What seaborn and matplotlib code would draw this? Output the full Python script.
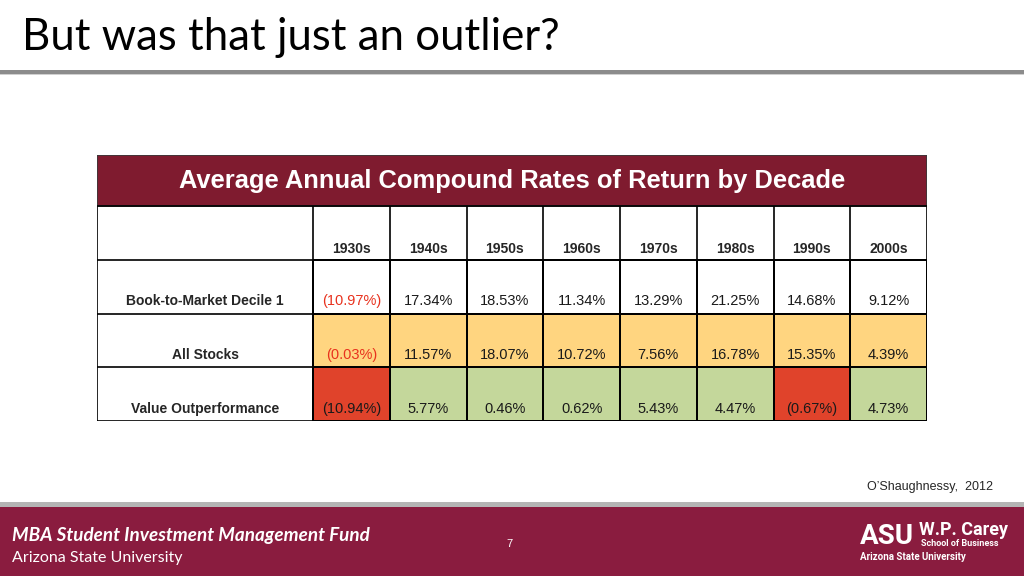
import matplotlib
matplotlib.use("Agg")
import matplotlib.pyplot as plt
from matplotlib.colors import ListedColormap
from matplotlib.patches import Rectangle
import numpy as np
import pandas as pd
import seaborn as sns

decades = ["1930s", "1940s", "1950s", "1960s", "1970s", "1980s", "1990s", "2000s"]
row_labels = ["Book-to-Market Decile 1", "All Stocks", "Value Outperformance"]
btm_decile1 = [-10.97, 17.34, 18.53, 11.34, 13.29, 21.25, 14.68, 9.12]
all_stocks = [-0.03, 11.57, 18.07, 10.72, 7.56, 16.78, 15.35, 4.39]
value_outperf = [-10.94, 5.77, 0.46, 0.62, 5.43, 4.47, -0.67, 4.73]

MAROON = "#8a1c3f"
BAND = "#7f1b2f"
YELLOW = "#ffd580"
GREEN = "#c4d79b"
RED = "#e0432b"

df = pd.DataFrame([btm_decile1, all_stocks, value_outperf], index=row_labels, columns=decades)

# colour code per cell: 0 white, 1 yellow, 2 green, 3 red
codes = np.zeros(df.shape)
codes[1, :] = 1
codes[2, :] = np.where(df.iloc[2] >= 0, 2, 3)
codes = pd.DataFrame(codes, index=row_labels, columns=decades)


def fmt(v):
    return f"({abs(v):.2f}%)" if v < 0 else f"{v:.2f}%"


sns.set_style("white")
plt.rcParams["font.family"] = ["Liberation Sans", "DejaVu Sans"]

fig = plt.figure(figsize=(10.24, 5.76), dpi=100)

# slide decoration in pixel coordinates
bg = fig.add_axes([0, 0, 1, 1])
bg.set_xlim(0, 1024)
bg.set_ylim(576, 0)
bg.set_axis_off()
bg.add_patch(Rectangle((0, 71), 1024, 4, color="#d0d0d0", lw=0))
bg.add_patch(Rectangle((0, 70), 1024, 4, color="#8c8c8c", lw=0))
bg.text(22, 38, "But was that just an outlier?", fontsize=31.5, family=["Lato", "DejaVu Sans"],
        va="center", ha="left", color="black")
bg.add_patch(Rectangle((0, 502), 1024, 6, color="#b4b4b4", lw=0))
bg.add_patch(Rectangle((0, 507), 1024, 69, color=MAROON, lw=0))
bg.text(12, 535, "MBA Student Investment Management Fund", fontsize=13.6, fontweight="bold",
        fontstyle="italic", family=["Lato", "DejaVu Sans"], color="white", va="center")
bg.text(12, 558, "Arizona State University", fontsize=11.5, family=["Lato", "DejaVu Sans"],
        color="white", va="center")
bg.text(509, 544, "7", fontsize=8, color="white", ha="center", va="center")
bg.text(993, 487, "O\u2019Shaughnessy,  2012", fontsize=9, ha="right", va="center")
bg.text(860, 536, "ASU", fontsize=20, fontweight="bold", color="white", va="center",
        family=["Roboto", "DejaVu Sans"])
bg.text(919, 530, "W.P. Carey", fontsize=13, fontweight="bold", color="white", va="center",
        family=["Roboto", "DejaVu Sans"])
bg.text(921, 544, "School of Business", fontsize=6.5, fontweight="bold", color="white",
        va="center", family=["Roboto", "DejaVu Sans"])
bg.text(860, 557, "Arizona State University", fontsize=7, fontweight="bold", color="white",
        va="center", family=["Roboto", "DejaVu Sans"])

# table
ax = fig.add_axes([97 / 1024, (576 - 421) / 576, 830 / 1024, 266 / 576])
cmap = ListedColormap(["white", YELLOW, GREEN, RED])
sns.heatmap(codes, cmap=cmap, vmin=-0.5, vmax=3.5, cbar=False, linewidths=1.2,
            linecolor="black", ax=ax)

n_cols = len(decades)
n_rows = len(row_labels)
lab_w = 216 / 76.75
title_h = 0.95
ax.set_xlim(-lab_w, n_cols)
ax.set_ylim(n_rows, -1 - title_h)
ax.set_axis_off()

ax.add_patch(Rectangle((-lab_w, -1 - title_h), n_cols + lab_w, title_h, facecolor=BAND,
                       edgecolor="#3a3a3a", lw=1.2))
ax.text((n_cols - lab_w) / 2, -1 - title_h / 2, "Average Annual Compound Rates of Return by Decade",
        color="white", fontsize=18.4, fontweight="bold", ha="center", va="center")

ax.hlines(np.arange(-1, n_rows + 1), -lab_w, n_cols, color="black", lw=1.2)
ax.vlines(np.arange(n_cols + 1), -1, n_rows, color="black", lw=1.2)
ax.vlines([-lab_w], -1, n_rows, color="black", lw=1.2)

for j, d in enumerate(decades):
    ax.text(j + 0.5, -0.2, d, ha="center", va="center", fontsize=10, fontweight="bold")

for i, lab in enumerate(row_labels):
    ax.text(-lab_w / 2, i + 0.77, lab, ha="center", va="center", fontsize=10, fontweight="bold")
    for j, v in enumerate(df.iloc[i]):
        red_txt = v < 0 and codes.iloc[i, j] < 2
        ax.text(j + 0.5, i + 0.77, fmt(v), ha="center", va="center", fontsize=10.5,
                color="#e8321e" if red_txt else "#1a1a1a")

fig.savefig("out.png", dpi=100)
